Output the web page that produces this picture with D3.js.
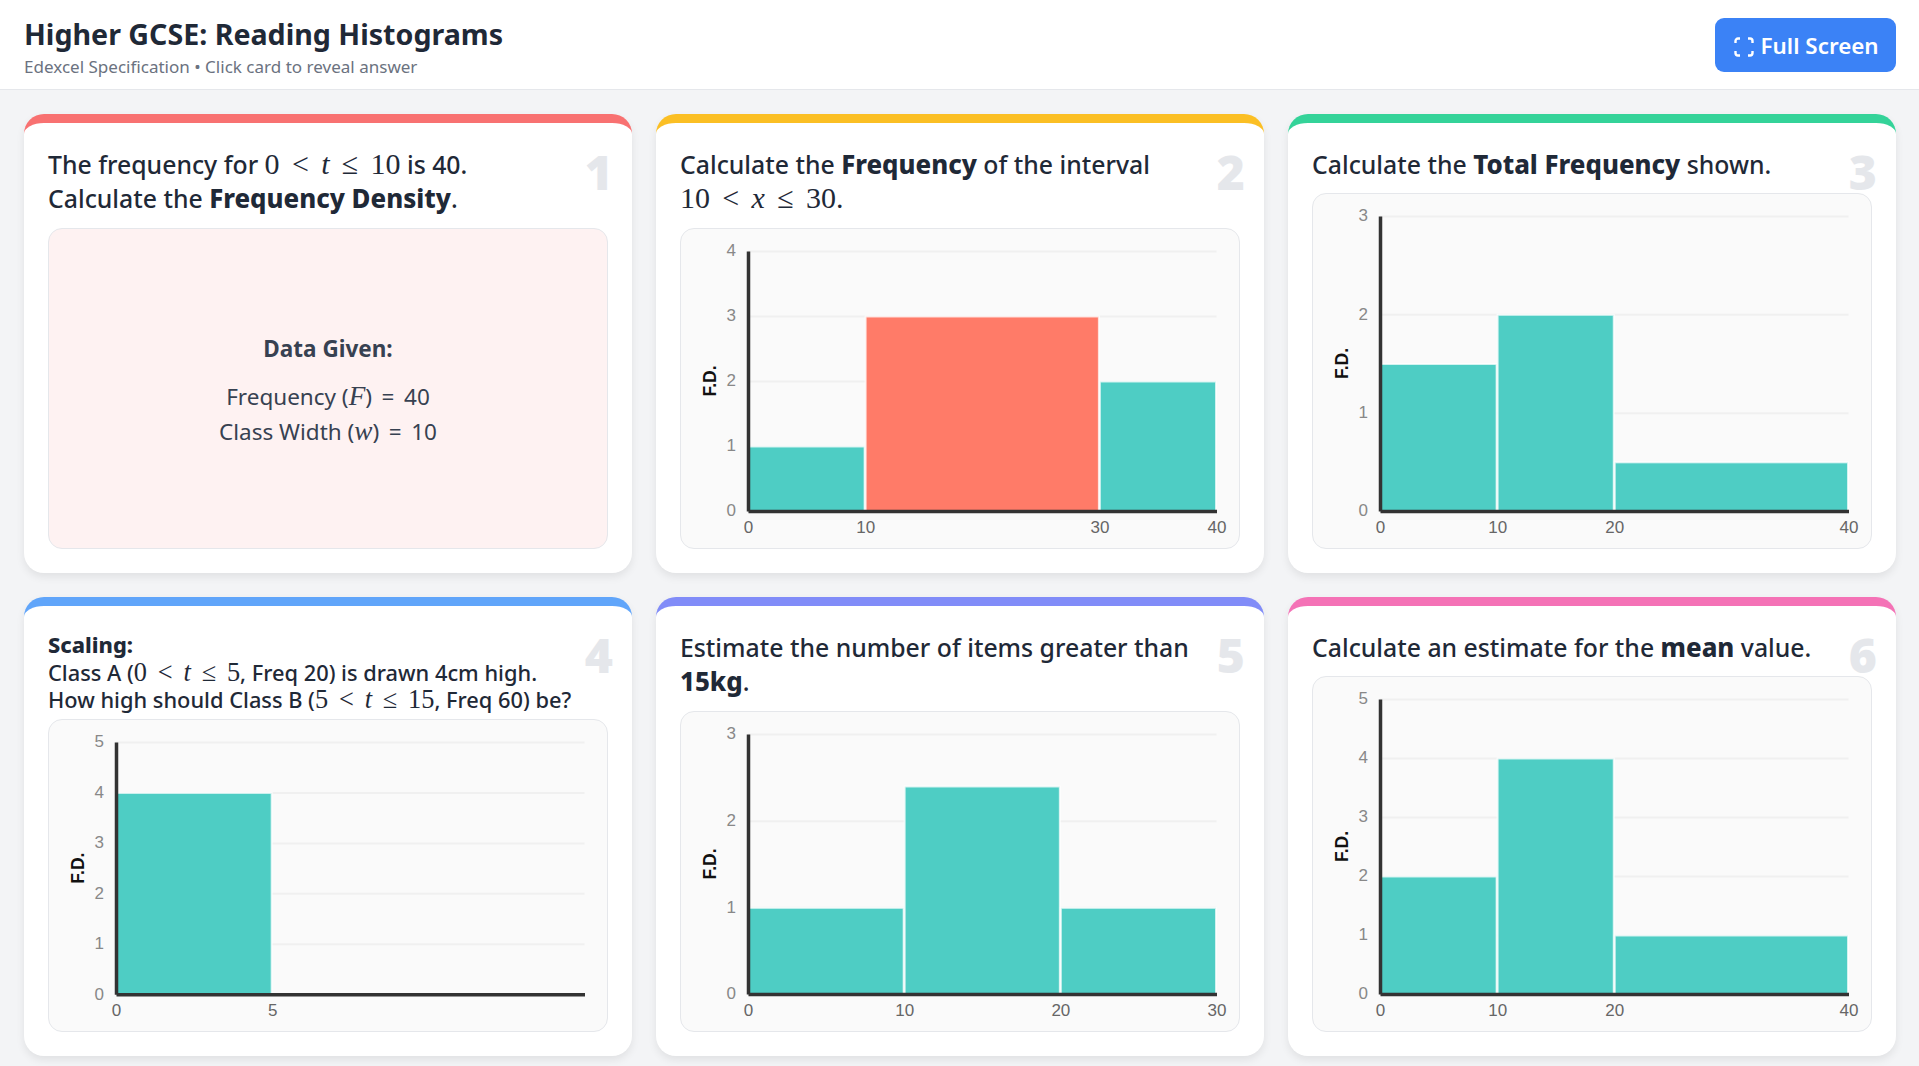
<!DOCTYPE html>
<html>
<head>
<meta charset="utf-8">
<title>Higher GCSE: Reading Histograms</title>
<script src="https://cdnjs.cloudflare.com/ajax/libs/d3/7.8.5/d3.min.js"></script>
<style>
  * { box-sizing: border-box; }
  html, body { margin: 0; height: 100%; overflow: hidden; }
  body { background: #f3f4f6; font-family: "Noto Sans", sans-serif; color: #1f2937; }
  header { height: 90px; background: #fff; border-bottom: 1px solid #e5e7eb; position: relative; }
  h1 { position: absolute; left: 24px; top: 14px; margin: 0; font-size: 28.6px; line-height: 40px; font-weight: 700; white-space: nowrap; }
  .sub { position: absolute; left: 24px; top: 55px; font-size: 17.05px; line-height: 24px; color: #6b7280; }
  .btn { position: absolute; left: 1715px; top: 18px; width: 181px; height: 54px; background: #3b82f6; border-radius: 9px;
         color: #fff; font-size: 22.4px; font-weight: 600; line-height: 56px; padding-left: 45.5px; white-space: nowrap; }
  .btn svg { position: absolute; left: 19px; top: 19px; }
  .grid { position: absolute; left: 24px; top: 114px; width: 1872px; display: grid;
          grid-template-columns: 608px 608px 608px; grid-auto-rows: 459px; gap: 24px; }
  .card { position: relative; background: #fff; border-top: 9px solid #000; border-radius: 20px; padding: 24px;
          box-shadow: 0 4px 8px rgba(0,0,0,.08); display: flex; flex-direction: column; }
  .num { position: absolute; right: 19px; top: 19px; font-size: 48px; line-height: 60px; font-weight: 900; color: #e5e7eb; }
  .q { position: relative; font-size: 24.8px; line-height: 34px; margin-right: 24px; margin-bottom: 13px; font-weight: 500; }
  .q.one { margin-bottom: 12px; }
  .q.small { font-size: 21.8px; line-height: 27.6px; margin-right: 0; margin-bottom: 5px; padding-top: 1px; }
  .q b { font-weight: 800; font-size: 1.04em; }
  .q.small b { font-size: 1em; }
  .m { font-family: "Liberation Serif", serif; font-size: 1.21em; font-weight: 400; white-space: nowrap; }
  .m i { font-style: italic; }
  .m .r { margin: 0 .41em; }
  .box { flex: 1; position: relative; min-height: 0; background: #fafafa; border: 1px solid #e5e7eb; border-radius: 14px; }
  .box.given { background: #fef2f2; display: flex; flex-direction: column; align-items: center; justify-content: center;
               color: #374151; font-size: 22.5px; line-height: 35.5px; padding-top: 3.5px; }
  .box.given div.t { font-weight: 700; margin-bottom: 12px; }
  .box svg { position: absolute; left: -1px; top: -1px; }
  .tick text { font-family: "Liberation Sans", Arial, sans-serif; font-size: 17px; }
</style>
</head>
<body>
<header>
  <h1>Higher GCSE: Reading Histograms</h1>
  <div class="sub">Edexcel Specification • Click card to reveal answer</div>
  <div class="btn"><svg width="20" height="20" viewBox="0 0 20 20" fill="none" stroke="#fff" stroke-width="2.4">
    <path d="M1.5 6V4a2.5 2.5 0 0 1 2.5-2.5h2M14 1.5h2a2.5 2.5 0 0 1 2.5 2.5v2M18.5 14v2a2.5 2.5 0 0 1-2.5 2.5h-2M6 18.5H4a2.5 2.5 0 0 1-2.5-2.5v-2"/></svg>Full Screen</div>
</header>
<div class="grid" id="grid"></div>
<script>
// Card colours and questions
var accents = ["#f87171", "#fbbf24", "#34d399", "#60a5fa", "#818cf8", "#f472b6"];
var lt = '<span class="r">&lt;</span>', le = '<span class="r">≤</span>';
var questions = [
  'The frequency for <span class="m">0' + lt + '<i>t</i>' + le + '10</span> is 40.<br>Calculate the <b>Frequency Density</b>.',
  'Calculate the <b>Frequency</b> of the interval <span class="m">10' + lt + '<i>x</i>' + le + '30.</span>',
  'Calculate the <b>Total Frequency</b> shown.',
  '<b>Scaling:</b><br>Class A (<span class="m">0' + lt + '<i>t</i>' + le + '5</span>, Freq 20) is drawn 4cm high.<br>How high should Class B (<span class="m">5' + lt + '<i>t</i>' + le + '15</span>, Freq 60) be?',
  'Estimate the number of items greater than <b>15kg</b>.',
  'Calculate an estimate for the <b>mean</b> value.'
];
var questionClass = ["q", "q", "q one", "q small", "q", "q one"];

// Histogram data, one entry per card (card 1 has no chart)
var edges2 = [0, 10, 30, 40], fd2 = [1, 3, 2];
var edges3 = [0, 10, 20, 40], fd3 = [1.5, 2, 0.5];
var edges4 = [0, 5],          fd4 = [4];
var edges5 = [0, 10, 20, 30], fd5 = [1, 2.4, 1];
var edges6 = [0, 10, 20, 40], fd6 = [2, 4, 1];

var xMax = [null, 40, 40, 15, 30, 40];
var yMax = [null, 4, 3, 5, 3, 5];
var edges = [null, edges2, edges3, edges4, edges5, edges6];
var values = [null, fd2, fd3, fd4, fd5, fd6];
var highlight = [null, 1, -1, -1, -1, -1];

var teal = "#4ecdc4", coral = "#ff7b68";
var margin = { top: 23, right: 23.5, bottom: 38, left: 68 };

var cards = d3.select("#grid").selectAll(".card").data(accents).enter()
  .append("div").attr("class", "card").style("border-top-color", function(d) { return d; });

cards.append("div").attr("class", "num").text(function(d, i) { return i + 1; });
cards.append("div").attr("class", function(d, i) { return questionClass[i]; })
  .html(function(d, i) { return questions[i]; });

cards.each(function(d, i) {
  var box = d3.select(this).append("div").attr("class", i == 0 ? "box given" : "box");

  if (i == 0) {
    box.append("div").attr("class", "t").text("Data Given:");
    box.append("div").html('Frequency (<span class="m"><i>F</i></span>) &thinsp;=&thinsp; 40');
    box.append("div").html('Class Width (<span class="m"><i>w</i></span>) &thinsp;=&thinsp; 10');
    return;
  }

  var rect = box.node().getBoundingClientRect();
  var w = rect.width - margin.left - margin.right,
      h = rect.height - margin.top - margin.bottom;

  var svg = box.append("svg").attr("width", rect.width).attr("height", rect.height)
    .append("g").attr("transform", "translate(" + margin.left + "," + margin.top + ")");

  var x = d3.scaleLinear().domain([0, xMax[i]]).range([0, w]);
  var y = d3.scaleLinear().domain([0, yMax[i]]).range([h, 0]);

  // Grid lines
  var grid = svg.append("g").call(d3.axisLeft(y).ticks(yMax[i]).tickSize(-w).tickFormat(""));
  grid.select(".domain").remove();
  grid.selectAll("line").attr("stroke", "#f0f0f0").attr("stroke-width", 2);

  // Bars, with a thin white outline like the original
  svg.selectAll(".bar").data(values[i]).enter().append("rect")
    .attr("class", "bar")
    .attr("x", function(v, j) { return x(edges[i][j]) + 0.5; })
    .attr("y", function(v) { return y(v) + 0.5; })
    .attr("width", function(v, j) { return x(edges[i][j + 1]) - x(edges[i][j]) - 1; })
    .attr("height", function(v) { return h - y(v) - 0.5; })
    .attr("fill", function(v, j) { return j == highlight[i] ? coral : teal; })
    .attr("stroke", "#fff").attr("stroke-opacity", 0.75).attr("stroke-width", 2);

  // Axes
  var yAxis = svg.append("g").call(d3.axisLeft(y).ticks(yMax[i]).tickSize(0).tickPadding(12).tickFormat(d3.format("d")));
  var xAxis = svg.append("g").attr("transform", "translate(0," + h + ")")
    .call(d3.axisBottom(x).tickValues(edges[i]).tickSize(0).tickPadding(10).tickFormat(d3.format("d")));
  yAxis.selectAll("text").attr("fill", "#888").attr("dy", "0.29em");
  xAxis.selectAll("text").attr("fill", "#666");
  svg.selectAll(".domain").attr("stroke", "#333").attr("stroke-width", 3.5);

  svg.append("text")
    .attr("text-anchor", "middle")
    .attr("transform", "translate(-32," + (h / 2) + ") rotate(-90)")
    .attr("font-family", "Liberation Sans, Arial, sans-serif")
    .attr("font-size", 17.5).attr("font-weight", 700).attr("fill", "#111")
    .text("F.D.");
});
</script>
</body>
</html>
